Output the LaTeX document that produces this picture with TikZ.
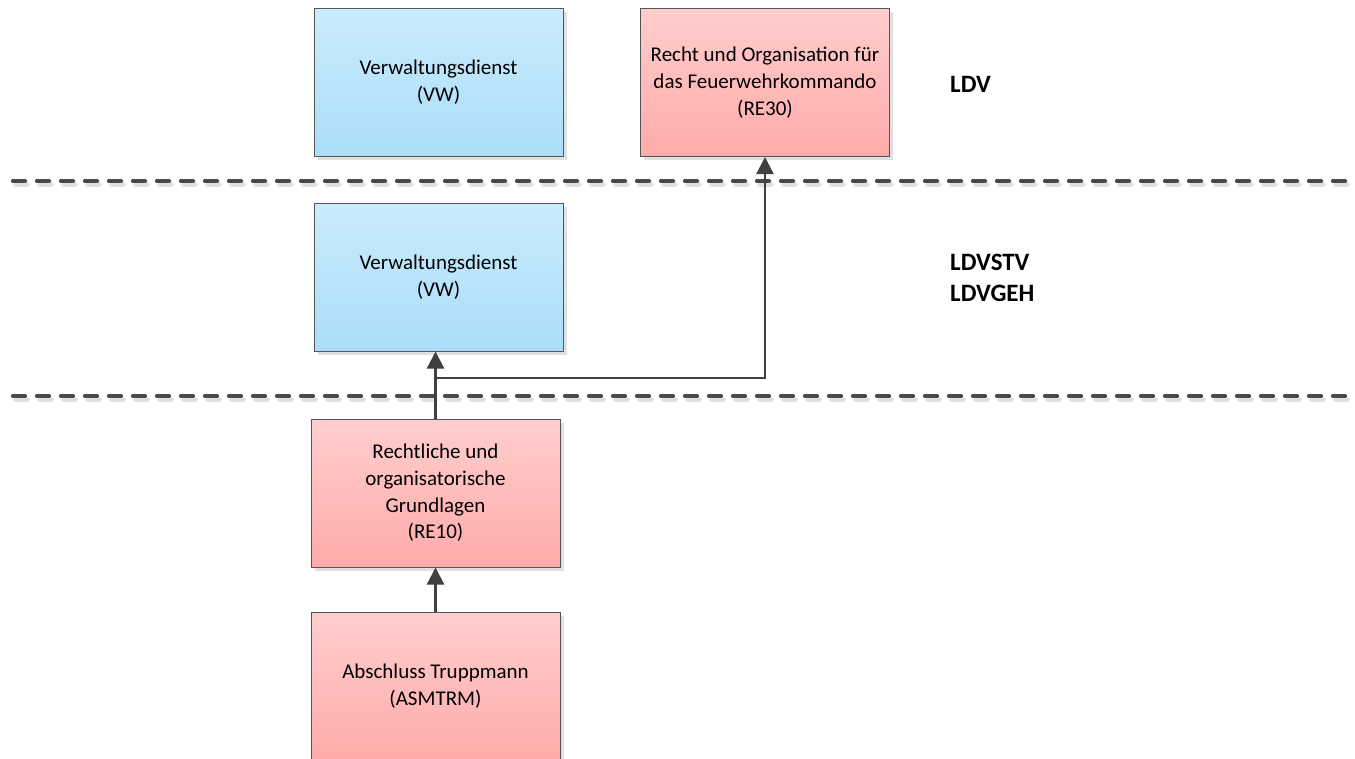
\documentclass[tikz,border=0pt]{standalone}
\usepackage{fontspec}
\setmainfont{Carlito}
\usetikzlibrary{arrows.meta,shadows}
\definecolor{bluetop}{RGB}{202,236,253}
\definecolor{bluebot}{RGB}{170,221,250}
\definecolor{pinktop}{RGB}{255,206,206}
\definecolor{pinkbot}{RGB}{255,170,170}
\definecolor{edgegray}{RGB}{85,85,85}
\definecolor{linegray}{RGB}{64,64,64}
\definecolor{dashgray}{RGB}{72,72,72}
\begin{document}
\begin{tikzpicture}[x=1pt,y=-1pt,
  box/.style={draw=edgegray, line width=1pt, minimum width=249pt, minimum height=148pt,
    inner sep=0pt, align=center, font=\fontsize{21}{26.7}\selectfont,
    drop shadow={shadow xshift=3.5pt, shadow yshift=-3.5pt, fill=black!12, opacity=1}},
  bluebox/.style={box, top color=bluetop, bottom color=bluebot},
  pinkbox/.style={box, top color=pinktop, bottom color=pinkbot},
  lvl/.style={anchor=base west, inner sep=0pt, font=\fontsize{25}{31}\selectfont\bfseries},
  arr/.style={draw=linegray, line width=2.2pt, -{Triangle[length=17pt,width=17pt]}},
  sep/.style={draw=dashgray, line width=4.2pt, line cap=round, dash pattern=on 12pt off 12pt},
  sepshadow/.style={draw=black!12, line width=4.2pt, line cap=round, dash pattern=on 12pt off 12pt}
]
\useasboundingbox[fill=white] (0,0) rectangle (1355,758);

% separators
\coordinate (s1a) at (13,181);
\coordinate (s1b) at (1350,181);
\coordinate (s2a) at (13,396);
\coordinate (s2b) at (1350,396);
\draw[sepshadow] ([shift={(2.5,3.5)}]s1a) -- ([shift={(2.5,3.5)}]s1b);
\draw[sepshadow] ([shift={(2.5,3.5)}]s2a) -- ([shift={(2.5,3.5)}]s2b);
\draw[sep] (s1a) -- (s1b);
\draw[sep] (s2a) -- (s2b);

% boxes
\node[bluebox] (vw1) at (438.5,82.5) {Verwaltungsdienst\\(VW)};
\node[pinkbox] (re30) at (765,82.5) {Recht und Organisation für\\das Feuerwehrkommando\\(RE30)};
\node[bluebox] (vw2) at (438.5,277) {Verwaltungsdienst\\(VW)};
\node[pinkbox] (re10) at (435.5,493) {Rechtliche und\\organisatorische\\Grundlagen\\(RE10)};
\node[pinkbox] (asm) at (435.5,686) {Abschluss Truppmann\\(ASMTRM)};

% level labels
\node[lvl] (l1) at (950,92) {LDV};
\node[lvl] (l2a) at (950,270) {LDVSTV};
\node[lvl] (l2b) at (950,301) {LDVGEH};

% connectors
\draw[arr] (asm.north) -- (re10.south);
\draw[arr] (re10.north) -- (re10.north |- vw2.south);
\coordinate (j) at (re10.north |- 0,378);
\draw[arr] (j) -| (re30.south);
\end{tikzpicture}
\end{document}
